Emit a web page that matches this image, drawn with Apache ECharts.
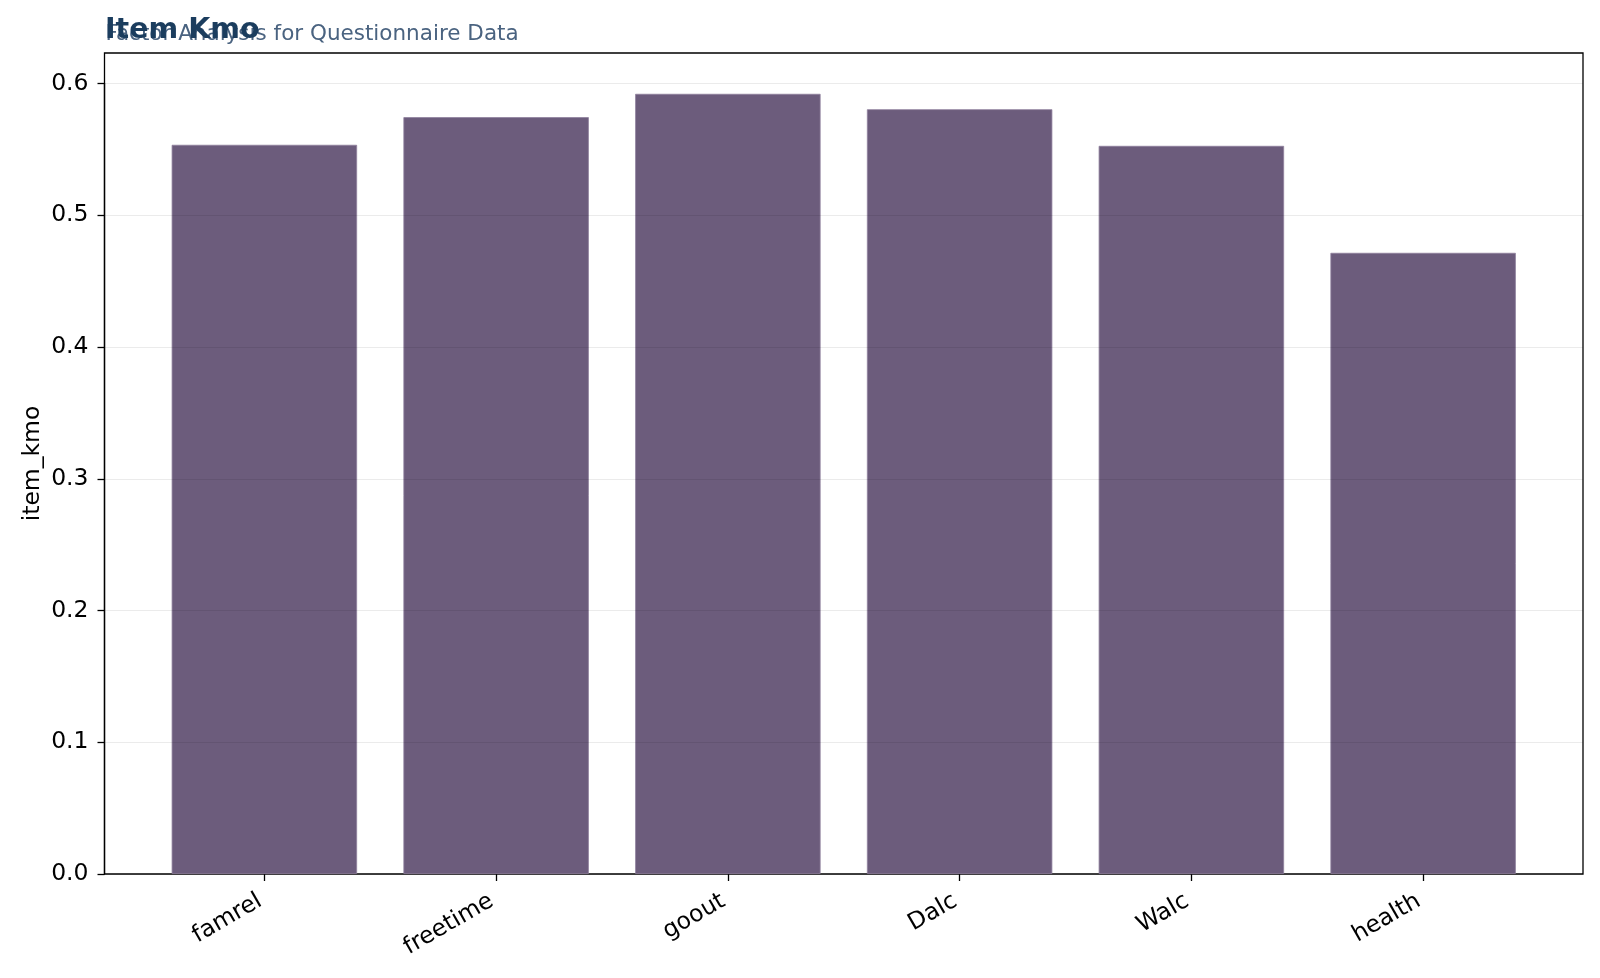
<!DOCTYPE html>
<html>
<head>
<meta charset="utf-8">
<script src="https://cdn.jsdelivr.net/npm/echarts@6/dist/echarts.min.js"></script>
<style>
html,body{margin:0;padding:0;background:#fff;overflow:hidden;}
#main{width:1600px;height:978px;}
</style>
</head>
<body>
<div id="main"></div>
<script>
var categories = ['famrel', 'freetime', 'goout', 'Dalc', 'Walc', 'health'];
var itemKmo = [0.5535, 0.5745, 0.5922, 0.5805, 0.5527, 0.4715];
var yTicks = [0, 0.1, 0.2, 0.3, 0.4, 0.5, 0.6];
var yMax = 0.6232;

var font = 'DejaVu Sans';
var chart = echarts.init(document.getElementById('main'));
var option = {
	animation : false,
	backgroundColor : '#fff',
	title : [ {
		text : 'Factor Analysis for Questionnaire Data',
		left : 105.5,
		top : 23,
		padding : 0,
		textStyle : { fontFamily : font, fontSize : 21.5, fontWeight : 'normal', color : '#4a6380' }
	}, {
		text : 'Item Kmo',
		left : 105,
		top : 16.5,
		padding : 0,
		textStyle : { fontFamily : font, fontSize : 28.5, fontWeight : 'bold', color : '#1b3d5e' }
	} ],
	grid : [ {
		// frame of the plot area
		left : 104.5, right : 17, top : 53, bottom : 104,
		show : true, borderColor : '#000', borderWidth : 1.3, backgroundColor : 'transparent'
	}, {
		// y ticks 0..0.6 (top at the 0.6 line)
		left : 104.5, right : 17, top : 83.5, bottom : 104
	}, {
		// bars, with matplotlib's 5% side margins
		left : 148.5, right : 61, top : 53, bottom : 104
	} ],
	xAxis : [ {
		type : 'value', gridIndex : 0, min : 0, max : 1, show : false
	}, {
		type : 'value', gridIndex : 1, min : 0, max : 1, show : false
	}, {
		type : 'category', gridIndex : 2, data : categories,
		axisLine : { show : false },
		axisTick : { show : true, alignWithLabel : true, length : 7, lineStyle : { color : '#000', width : 1.3 } },
		axisLabel : { rotate : 30, fontFamily : font, fontSize : 23.5, color : '#000', margin : 23, padding : [0, 5, 0, 0] }
	} ],
	yAxis : [ {
		type : 'value', gridIndex : 0, min : 0, max : yMax,
		name : 'item_kmo', nameLocation : 'middle', nameGap : 60,
		nameTextStyle : { fontFamily : font, fontSize : 23.5, color : '#000' },
		axisLine : { show : false }, axisTick : { show : false },
		axisLabel : { show : false }, splitLine : { show : false }
	}, {
		type : 'value', gridIndex : 1, min : 0, max : 0.6, interval : 0.1,
		z : 5,
		axisLine : { show : true, lineStyle : { color : '#000', width : 1.3 } },
		axisTick : { show : true, length : 7, lineStyle : { color : '#000', width : 1.3 } },
		axisLabel : {
			fontFamily : font, fontSize : 23.5, color : '#000', margin : 16,
			formatter : function(v) {
				return v.toFixed(1);
			}
		},
		splitLine : { show : true, lineStyle : { color : 'rgba(0,0,0,0.08)', width : 1.2 } }
	}, {
		type : 'value', gridIndex : 2, min : 0, max : yMax, show : false
	} ],
	series : [ {
		name : 'item_kmo',
		type : 'bar',
		xAxisIndex : 2,
		yAxisIndex : 2,
		barWidth : '80%',
		data : itemKmo,
		itemStyle : { color : '#6c5c7c', borderColor : '#8e7f9c', borderWidth : 0.8 }
	} ]
};
chart.setOption(option);
</script>
</body>
</html>
